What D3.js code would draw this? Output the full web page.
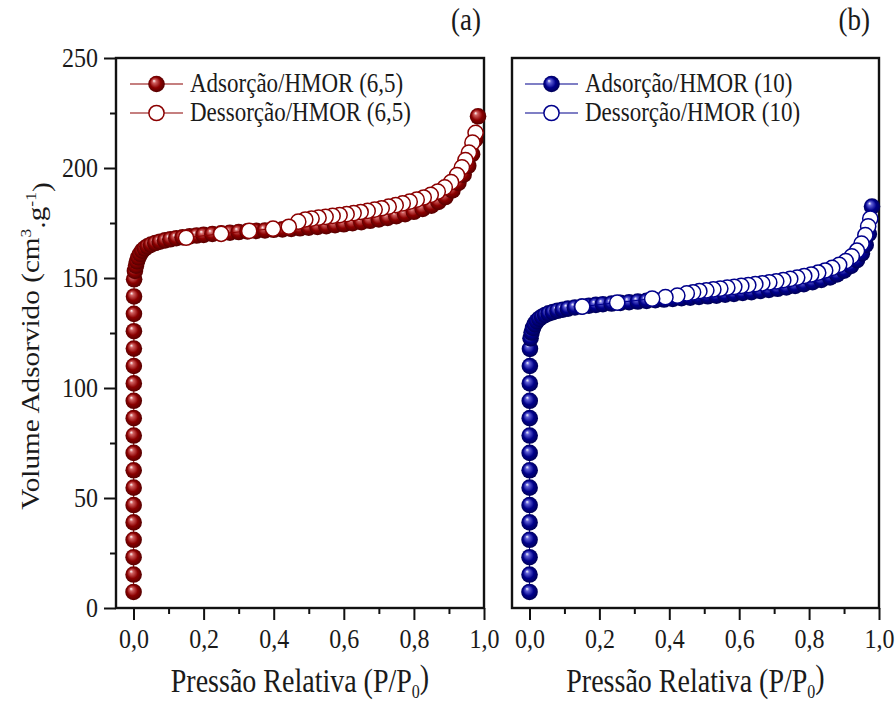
<!DOCTYPE html>
<html>
<head>
<meta charset="utf-8">
<title>Isotermas HMOR</title>
<script src="https://cdn.jsdelivr.net/npm/d3@7"></script>
<style>
  body { margin: 0; background: #fff; }
  svg { display: block; }
  text { font-family: "Liberation Serif", "Times New Roman", serif; fill: #1a1a1a; }
  .frame { fill: none; stroke: #111; stroke-width: 2.4; }
  .axis path { display: none; }
  .axis line { stroke: #111; stroke-width: 2; }
  .axis text { font-size: 24px; }
  .series-line { fill: none; stroke-width: 1; }
</style>
</head>
<body>
<div id="chart"></div>
<script>
// ---- data (P/P0, volume cm3/g) ----
var ads65 = [
  [0.0001,7.3],[0.0002,15.2],[0.0002,23.1],[0.0003,31.0],[0.0003,38.9],[0.0004,46.8],
  [0.0004,54.7],[0.0005,62.6],[0.0005,70.5],[0.0006,78.4],[0.0006,86.3],[0.0007,94.2],
  [0.0008,102.1],[0.0009,110.0],[0.001,117.9],[0.0011,125.8],[0.0012,133.7],[0.0014,141.6],
  [0.0017,149.4],[0.004,153.2],[0.007,155.6],[0.010,157.6],[0.014,159.4],[0.019,161],
  [0.025,162.4],[0.032,163.5],[0.040,164.4],[0.050,165.2],[0.062,165.9],[0.075,166.5],
  [0.090,167.1],[0.105,167.6],[0.122,168.1],[0.14,168.5],[0.16,168.9],[0.18,169.3],
  [0.20,169.6],[0.225,170],[0.25,170.3],[0.275,170.6],[0.30,170.9],[0.325,171.2],
  [0.35,171.4],[0.375,171.6],[0.40,171.9],[0.425,172.1],[0.45,172.3],[0.475,172.6],
  [0.50,172.9],[0.525,173.2],[0.55,173.6],[0.575,174],[0.60,174.4],[0.625,174.9],
  [0.65,175.4],[0.675,176],[0.70,176.6],[0.725,177.3],[0.75,178.1],[0.775,179],
  [0.80,180.1],[0.825,181.4],[0.85,182.9],[0.87,184.6],[0.89,186.8],[0.91,189.8],
  [0.927,193.2],[0.942,197],[0.955,201],[0.966,206.3],[0.975,213],[0.983,223.5]
];
var des65 = [
  [0.976,216],[0.967,211.5],[0.957,207],[0.947,203.6],[0.937,200.3],[0.923,196.8],
  [0.906,193.6],[0.888,191.2],[0.868,189.3],[0.848,187.8],[0.828,186.6],[0.808,185.6],
  [0.788,184.7],[0.768,183.9],[0.748,183.1],[0.728,182.4],[0.708,181.7],[0.688,181.1],
  [0.668,180.5],[0.648,180],[0.628,179.5],[0.608,179],[0.588,178.6],[0.568,178.2],
  [0.548,177.8],[0.528,177.4],[0.508,177],[0.490,176.6],[0.470,175.6],[0.443,173.3],
  [0.398,172.4],[0.33,171.4],[0.25,170.1],[0.15,168.3]
];
var ads10 = [
  [0.0001,7.3],[0.0002,15.2],[0.0002,23.1],[0.0003,31.0],[0.0003,38.9],[0.0004,46.8],
  [0.0004,54.7],[0.0005,62.6],[0.0005,70.5],[0.0006,78.4],[0.0007,86.3],[0.0008,94.2],
  [0.0009,102.1],[0.0011,110.0],[0.0014,117.8],[0.003,122.6],[0.006,125.2],[0.010,127.3],
  [0.015,129],[0.021,130.4],[0.028,131.5],[0.036,132.4],[0.045,133.2],[0.055,133.9],
  [0.067,134.5],[0.08,135.1],[0.095,135.6],[0.11,136.1],[0.13,136.6],[0.15,137],
  [0.17,137.4],[0.19,137.8],[0.21,138.1],[0.235,138.4],[0.26,138.7],[0.285,139],
  [0.31,139.3],[0.335,139.6],[0.36,139.9],[0.385,140.2],[0.41,140.5],[0.435,140.8],
  [0.46,141.1],[0.485,141.4],[0.51,141.7],[0.535,142],[0.56,142.4],[0.585,142.8],
  [0.61,143.2],[0.635,143.6],[0.66,144.1],[0.685,144.6],[0.71,145.1],[0.735,145.7],
  [0.76,146.4],[0.785,147.2],[0.81,148.1],[0.835,149.1],[0.86,150.3],[0.88,151.6],
  [0.90,153.3],[0.92,155.5],[0.937,158.1],[0.951,161.2],[0.962,165],[0.971,170],
  [0.98,182.5]
];
var des10 = [
  [0.975,177],[0.969,173.5],[0.961,169.5],[0.950,165.6],[0.937,162.4],[0.922,159.8],
  [0.905,157.7],[0.886,156],[0.866,154.6],[0.846,153.4],[0.826,152.4],[0.806,151.6],
  [0.786,150.9],[0.766,150.2],[0.746,149.6],[0.726,149],[0.706,148.5],[0.686,148],
  [0.666,147.6],[0.646,147.2],[0.626,146.8],[0.606,146.4],[0.586,146],[0.566,145.6],
  [0.546,145.2],[0.526,144.8],[0.506,144.4],[0.486,144],[0.468,143.5],[0.45,143],
  [0.423,142],[0.389,141.3],[0.351,140.6],[0.251,138.8],[0.151,137]
];

var xMajor = [0, 0.2, 0.4, 0.6, 0.8, 1.0];
var xMinor = [0.1, 0.3, 0.5, 0.7, 0.9];
var yMajor = [0, 50, 100, 150, 200, 250];
var yMinor = [25, 75, 125, 175, 225];

var panelLabels = ["(a)", "(b)"];
var legendAds = ["Adsorção/HMOR (6,5)", "Adsorção/HMOR (10)"];
var legendDes = ["Dessorção/HMOR (6,5)", "Dessorção/HMOR (10)"];
var colors = ["#8b0000", "#00008b"];

// ---- layout ----
var width = 896, height = 702;
var stretch = 1.17;   // the original figure is slightly stretched vertically
var plotTop = 58, plotBottom = 608;
var panels = [
  {x0: 116, x1: 484, ads: ads65, des: des65, color: colors[0], light: "#d06060", dark: "#4a0000",
   legX: 130, label: panelLabels[0], labelX: 481},
  {x0: 512, x1: 879, ads: ads10, des: des10, color: colors[1], light: "#6060d8", dark: "#00004a",
   legX: 525, label: panelLabels[1], labelX: 870}
];

var svg = d3.select("#chart").append("svg")
  .attr("width", width)
  .attr("height", height);

var defs = svg.append("defs");

var y = d3.scaleLinear().domain([0, 250]).range([plotBottom, plotTop]);

panels.forEach(function(p, i) {
  // glossy ball gradient
  var grad = defs.append("radialGradient")
    .attr("id", "ball" + i)
    .attr("cx", "50%").attr("cy", "50%").attr("r", "55%")
    .attr("fx", "34%").attr("fy", "30%");
  grad.append("stop").attr("offset", "0%").attr("stop-color", "#ffffff");
  grad.append("stop").attr("offset", "20%").attr("stop-color", p.light);
  grad.append("stop").attr("offset", "58%").attr("stop-color", p.color);
  grad.append("stop").attr("offset", "100%").attr("stop-color", p.dark);

  var x = d3.scaleLinear().domain([-0.05, 1.0]).range([p.x0, p.x1]);
  var g = svg.append("g").attr("class", "panel");

  // x axis (major + minor)
  var xa = g.append("g").attr("class", "axis")
    .attr("transform", "translate(0," + plotBottom + ")")
    .call(d3.axisBottom(x).tickValues(xMajor).tickSize(12)
      .tickFormat(function(d) { return d.toFixed(1).replace(".", ","); }));
  xa.selectAll("text")
    .attr("y", 34).attr("dy", null)
    .attr("transform", "scale(1," + stretch + ")");
  g.append("g").attr("class", "axis")
    .attr("transform", "translate(0," + plotBottom + ")")
    .call(d3.axisBottom(x).tickValues(xMinor).tickSize(6).tickFormat(""));

  // y axis only on the first panel
  if (i === 0) {
    var ya = g.append("g").attr("class", "axis")
      .attr("transform", "translate(" + p.x0 + ",0)")
      .call(d3.axisLeft(y).tickValues(yMajor).tickSize(12));
    ya.selectAll("text")
      .attr("x", -18).attr("dy", "0.32em")
      .attr("transform", "scale(1," + stretch + ")");
    g.append("g").attr("class", "axis")
      .attr("transform", "translate(" + p.x0 + ",0)")
      .call(d3.axisLeft(y).tickValues(yMinor).tickSize(6).tickFormat(""));
  }

  // frame
  g.append("rect").attr("class", "frame")
    .attr("x", p.x0).attr("y", plotTop)
    .attr("width", p.x1 - p.x0).attr("height", plotBottom - plotTop);

  var line = d3.line().x(function(d) { return x(d[0]); }).y(function(d) { return y(d[1]); });

  // adsorption: filled glossy balls
  g.append("path").attr("class", "series-line")
    .attr("stroke", p.color).attr("d", line(p.ads));
  g.append("g").selectAll("circle").data(p.ads).enter().append("circle")
    .attr("cx", function(d) { return x(d[0]); })
    .attr("cy", function(d) { return y(d[1]); })
    .attr("r", 8.3)
    .attr("fill", "url(#ball" + i + ")");

  // desorption: open circles
  g.append("path").attr("class", "series-line")
    .attr("stroke", p.color).attr("d", line(p.des));
  g.append("g").selectAll("circle").data(p.des).enter().append("circle")
    .attr("cx", function(d) { return x(d[0]); })
    .attr("cy", function(d) { return y(d[1]); })
    .attr("r", 7.6)
    .attr("fill", "#fff")
    .attr("stroke", p.color)
    .attr("stroke-width", 1.5);

  // legend
  var rows = [{txt: legendAds[i], ball: true, y: 84}, {txt: legendDes[i], ball: false, y: 113}];
  rows.forEach(function(r) {
    g.append("line")
      .attr("x1", p.legX).attr("x2", p.legX + 53)
      .attr("y1", r.y).attr("y2", r.y)
      .attr("stroke", p.color).attr("stroke-width", 1.2);
    var c = g.append("circle")
      .attr("cx", p.legX + 26.5).attr("cy", r.y).attr("r", r.ball ? 8.3 : 7.6);
    if (r.ball) c.attr("fill", "url(#ball" + i + ")");
    else c.attr("fill", "#fff").attr("stroke", p.color).attr("stroke-width", 1.5);
    g.append("text")
      .attr("transform", "translate(" + (p.legX + 60) + "," + (r.y + 8) + ") scale(1," + stretch + ")")
      .style("font-size", "23px")
      .text(r.txt);
  });

  // panel label
  g.append("text")
    .attr("transform", "translate(" + p.labelX + ",30) scale(1," + stretch + ")")
    .attr("text-anchor", "end")
    .style("font-size", "27px")
    .text(p.label);

  // x title
  var xt = g.append("text")
    .attr("transform", "translate(" + ((p.x0 + p.x1) / 2) + ",692) scale(1," + stretch + ")")
    .attr("text-anchor", "middle")
    .style("font-size", "28px");
  xt.append("tspan").text("Pressão Relativa (P/P");
  xt.append("tspan").attr("dy", "0.3em").style("font-size", "16px").text("0");
  xt.append("tspan").attr("dy", "-0.3em").text(")");
});

// y title
var yt = svg.append("text")
  .attr("transform", "translate(39,346) rotate(-90) scale(" + stretch + ",1)")
  .attr("text-anchor", "middle")
  .style("font-size", "25px");
yt.append("tspan").text("Volume Adsorvido (cm");
yt.append("tspan").attr("dy", "-0.55em").style("font-size", "15px").text("3");
yt.append("tspan").attr("dy", "0.55em").text(".g");
yt.append("tspan").attr("dy", "-0.55em").style("font-size", "15px").text("-1");
yt.append("tspan").attr("dy", "0.55em").text(")");
</script>
</body>
</html>
